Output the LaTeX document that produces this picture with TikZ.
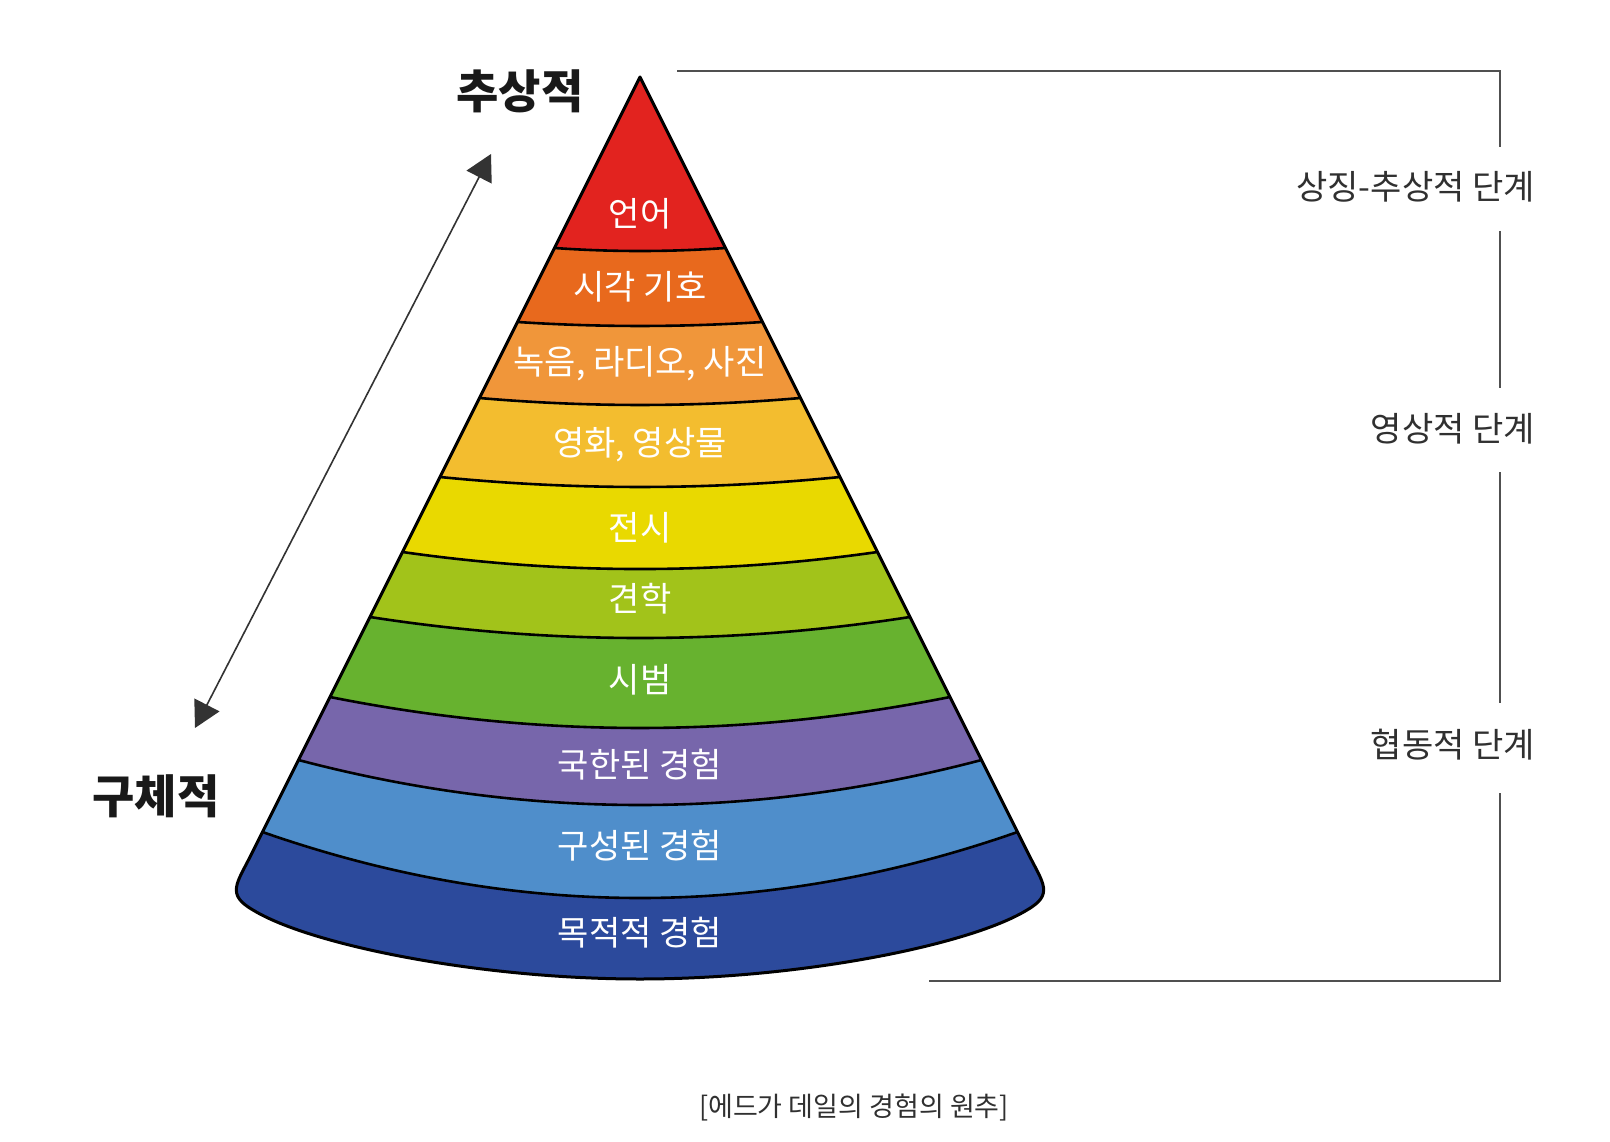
\documentclass[tikz,border=0pt]{standalone}
\usepackage{fontspec}
\usetikzlibrary{arrows.meta}
\newfontfamily\kr{Noto Sans CJK KR}
\definecolor{cA}{HTML}{E2231F}
\definecolor{cB}{HTML}{E8691D}
\definecolor{cC}{HTML}{F0963A}
\definecolor{cD}{HTML}{F3BD2F}
\definecolor{cE}{HTML}{E9D900}
\definecolor{cF}{HTML}{A2C31A}
\definecolor{cG}{HTML}{67B22F}
\definecolor{cH}{HTML}{7766AB}
\definecolor{cI}{HTML}{4F8ECB}
\definecolor{cJ}{HTML}{2C4A9C}
\definecolor{txtgray}{HTML}{303030}
\definecolor{linegray}{HTML}{505050}
\tikzset{
  layertext/.style={text=white,font=\kr\fontsize{34}{38}\selectfont,inner sep=0pt},
  endtext/.style={text=black!90,font=\kr\bfseries\fontsize{46}{50}\selectfont,inner sep=0pt},
  stagetext/.style={text=txtgray,font=\kr\fontsize{34}{38}\selectfont,inner sep=0pt,anchor=east},
  captext/.style={text=txtgray,font=\kr\fontsize{27}{31}\selectfont,inner sep=0pt},
  bracketline/.style={draw=linegray,line width=2pt},
  outline/.style={draw=black,line width=3pt,line join=round},
  bandline/.style={draw=black,line width=2.6pt},
  dblarrow/.style={draw=black!80,line width=1.6pt,{Triangle[length=26pt,width=28pt]}-{Triangle[length=26pt,width=28pt]}}
}
\begin{document}
\begin{tikzpicture}[x=1pt,y=-1pt]
\useasboundingbox[fill=white] (0,0) rectangle (1610,1142);
% whole cone (bottom layer)
\fill[cJ] (640,77) -- (251,855) .. controls (236.7,883.6) and (226,894.5) .. (253,910)
  .. controls (310,945) and (480,979) .. (640,979)
  .. controls (800,979) and (970,945) .. (1027,910)
  .. controls (1054,894.5) and (1043.3,883.6) .. (1029,855) -- cycle;
% regions above each boundary
\fill[cI] (640,77) -- (262.5,832) .. controls (514.2,920) and (765.8,920) .. (1017.5,832) -- cycle;
\fill[cH] (640,77) -- (298.5,760) .. controls (526.2,820) and (753.8,820) .. (981.5,760) -- cycle;
\fill[cG] (640,77) -- (330,697) .. controls (536.7,738.3) and (743.3,738.3) .. (950,697) -- cycle;
\fill[cF] (640,77) -- (370,617) .. controls (550,645) and (730,645) .. (910,617) -- cycle;
\fill[cE] (640,77) -- (402.5,552) .. controls (560.8,574.7) and (719.2,574.7) .. (877.5,552) -- cycle;
\fill[cD] (640,77) -- (440,477) .. controls (573.3,490.3) and (706.7,490.3) .. (840,477) -- cycle;
\fill[cC] (640,77) -- (479.5,398) .. controls (586.5,407.3) and (693.5,407.3) .. (800.5,398) -- cycle;
\fill[cB] (640,77) -- (517.5,322) .. controls (599.2,327.3) and (680.8,327.3) .. (762.5,322) -- cycle;
\fill[cA] (640,77) -- (554.5,248) .. controls (611.5,252) and (668.5,252) .. (725.5,248) -- cycle;
% band boundaries
\draw[bandline] (262.5,832) .. controls (514.2,920) and (765.8,920) .. (1017.5,832);
\draw[bandline] (298.5,760) .. controls (526.2,820) and (753.8,820) .. (981.5,760);
\draw[bandline] (330,697) .. controls (536.7,738.3) and (743.3,738.3) .. (950,697);
\draw[bandline] (370,617) .. controls (550,645) and (730,645) .. (910,617);
\draw[bandline] (402.5,552) .. controls (560.8,574.7) and (719.2,574.7) .. (877.5,552);
\draw[bandline] (440,477) .. controls (573.3,490.3) and (706.7,490.3) .. (840,477);
\draw[bandline] (479.5,398) .. controls (586.5,407.3) and (693.5,407.3) .. (800.5,398);
\draw[bandline] (517.5,322) .. controls (599.2,327.3) and (680.8,327.3) .. (762.5,322);
\draw[bandline] (554.5,248) .. controls (611.5,252) and (668.5,252) .. (725.5,248);
% outline
\draw[outline] (640,77) -- (251,855) .. controls (236.7,883.6) and (226,894.5) .. (253,910)
  .. controls (310,945) and (480,979) .. (640,979)
  .. controls (800,979) and (970,945) .. (1027,910)
  .. controls (1054,894.5) and (1043.3,883.6) .. (1029,855) -- cycle;
% layer labels
\node[layertext] (l1) at (640,214) {언어};
\node[layertext] (l2) at (640,287) {시각 기호};
\node[layertext] (l3) at (640,364) {녹음, 라디오, 사진};
\node[layertext] (l4) at (640,445) {영화, 영상물};
\node[layertext] (l5) at (640,528) {전시};
\node[layertext] (l6) at (640,599) {견학};
\node[layertext] (l7) at (640,680) {시범};
\node[layertext] (l8) at (640,765) {국한된 경험};
\node[layertext] (l9) at (640,846) {구성된 경험};
\node[layertext] (l10) at (640,933) {목적적 경험};
% end labels and arrow
\node[endtext] (abs) at (520,91) {추상적};
\node[endtext] (con) at (156,796) {구체적};
\coordinate (arrLo) at (195,728);
\coordinate (arrHi) at (491,154);
\draw[dblarrow] (arrLo) -- (arrHi);
% bracket
\coordinate (bTL) at (677,71);
\coordinate (bTR) at (1500,71);
\coordinate (bA) at (1500,147);
\coordinate (bB) at (1500,231);
\coordinate (bC) at (1500,388);
\coordinate (bD) at (1500,472);
\coordinate (bE) at (1500,703);
\coordinate (bF) at (1500,793);
\coordinate (bBR) at (1500,981);
\coordinate (bBL) at (929,981);
\draw[bracketline] (bTL) -- (bTR) -- (bA);
\draw[bracketline] (bB) -- (bC);
\draw[bracketline] (bD) -- (bE);
\draw[bracketline] (bF) -- (bBR) -- (bBL);
\node[stagetext] (s1) at (1535,187) {상징-추상적 단계};
\node[stagetext] (s2) at (1535,429) {영상적 단계};
\node[stagetext] (s3) at (1535,745) {협동적 단계};
% caption
\node[captext] (cap) at (854,1108) {[에드가 데일의 경험의 원추]};
\end{tikzpicture}
\end{document}
